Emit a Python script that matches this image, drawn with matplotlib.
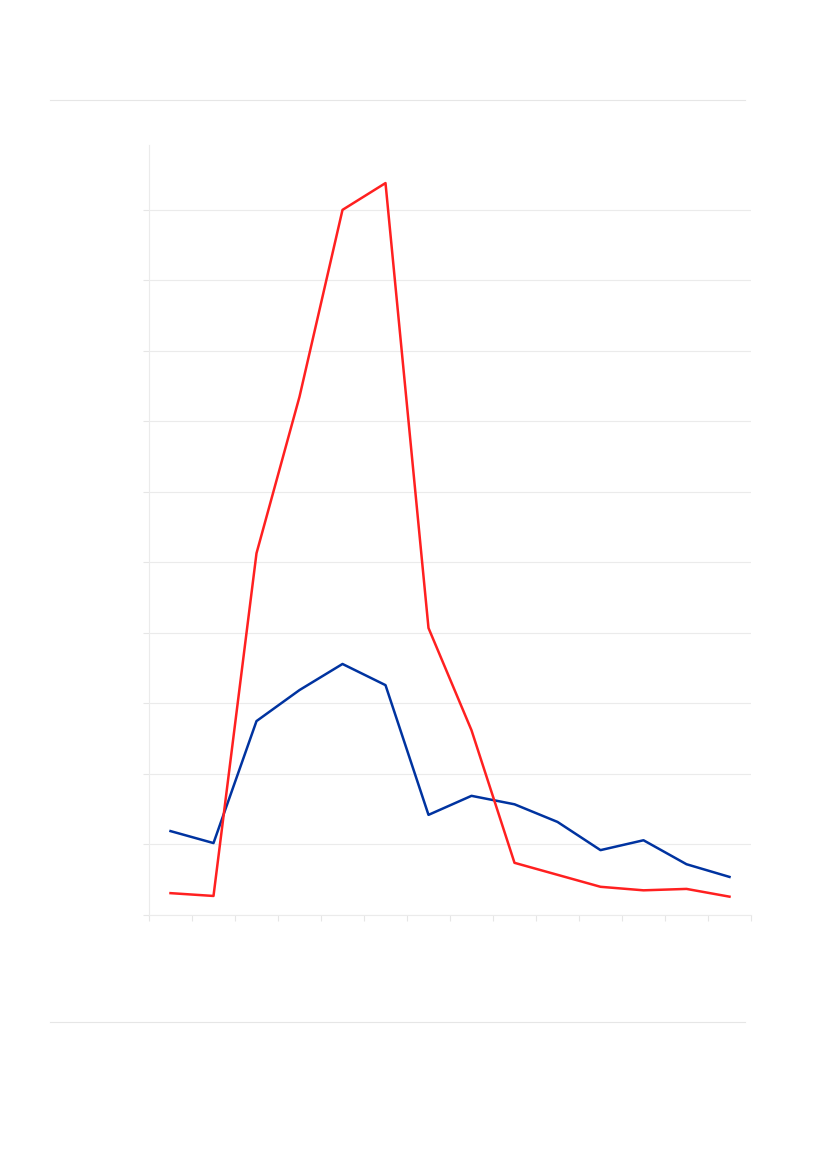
import matplotlib
matplotlib.use("Agg")
import matplotlib.pyplot as plt
from matplotlib.lines import Line2D
import numpy as np

categories = list(range(1, 15))
red_values = [0.31, 0.27, 5.13, 7.35, 10.0, 10.38, 4.07, 2.62, 0.74, 0.57, 0.40, 0.35, 0.37, 0.26]
blue_values = [1.19, 1.02, 2.75, 3.19, 3.56, 3.26, 1.42, 1.69, 1.57, 1.32, 0.92, 1.06, 0.72, 0.54]

W, H = 827, 1169
fig = plt.figure(figsize=(W / 100, H / 100), dpi=100)
ax = fig.add_axes([149 / W, 1 - 915 / H, (751 - 149) / W, (915 - 145) / H])

x = np.arange(len(categories))
ax.plot(x, blue_values, color="#0033a0", lw=1.8, zorder=3)
ax.plot(x, red_values, color="#ff2020", lw=1.8, zorder=4)

ax.set_xlim(-0.5, len(categories) - 0.5)
ax.set_ylim(0, 10.92)
ax.set_xticks(np.arange(-0.5, len(categories), 1))
ax.set_yticks(np.arange(0, 11, 1))
ax.set_xticklabels([])
ax.set_yticklabels([])
ax.tick_params(axis="both", color="#e6e6e6", length=4, width=0.8)
ax.grid(axis="y", color="#ebebeb", lw=0.8)
ax.grid(axis="x", visible=False)
for s in ["top", "right"]:
    ax.spines[s].set_visible(False)
for s in ["left", "bottom"]:
    ax.spines[s].set_color("#ebebeb")
    ax.spines[s].set_linewidth(0.8)
ax.set_axisbelow(True)

# separator rules above and below the chart
for yy in (100, 1022):
    fig.add_artist(Line2D([50 / W, 745 / W], [1 - yy / H, 1 - yy / H],
                          color="#e6e6e6", lw=0.8, transform=fig.transFigure))

plt.savefig("out.png", dpi=100)
